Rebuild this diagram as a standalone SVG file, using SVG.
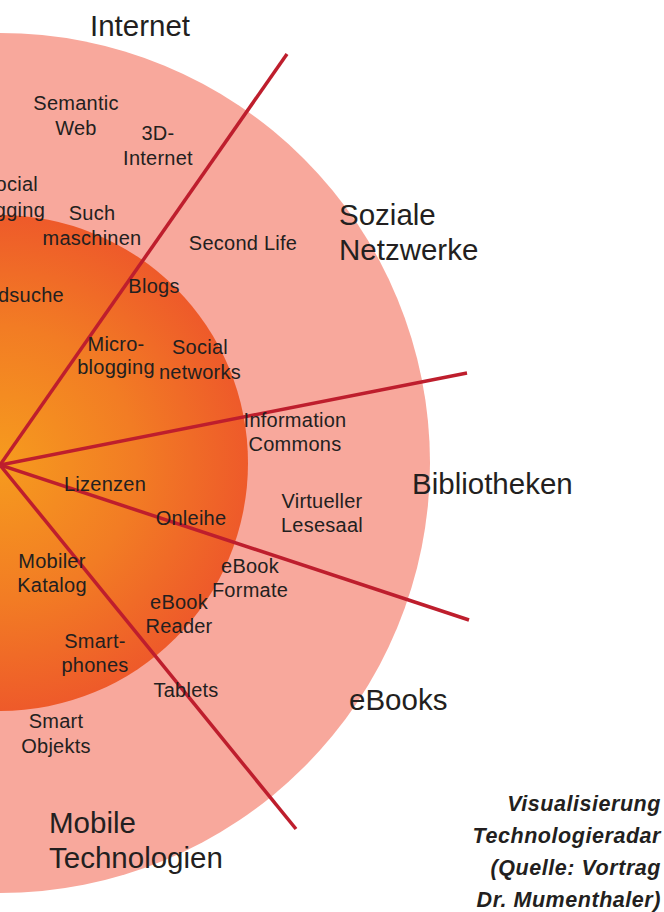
<svg xmlns="http://www.w3.org/2000/svg" width="664" height="912" viewBox="0 0 664 912">
<defs>
<radialGradient id="core" gradientUnits="userSpaceOnUse" cx="0" cy="463" r="248">
<stop offset="0" stop-color="#F69B1E"/>
<stop offset="0.55" stop-color="#F27C24"/>
<stop offset="1" stop-color="#EE5A2A"/>
</radialGradient>
<style>
text{font-family:"Liberation Sans",Arial,sans-serif;fill:#231F20}
.s{font-size:20px;text-anchor:middle;letter-spacing:0.25px}
.l{font-size:29.5px}
.c{font-size:21.5px;font-weight:bold;font-style:italic;text-anchor:end;letter-spacing:0.55px}
.ray{stroke:#BE1E2D;stroke-width:3.5;fill:none}
</style>
</defs>
<rect width="664" height="912" fill="#FFFFFF"/>
<g id="rings">
<circle cx="0" cy="463" r="430" fill="#F8A89C"/>
<circle cx="0" cy="463" r="248" fill="url(#core)"/>
</g>
<g id="connectors">
<line class="ray" x1="0" y1="465" x2="287" y2="54"/>
<line class="ray" x1="0" y1="465" x2="467" y2="373"/>
<line class="ray" x1="0" y1="465" x2="469" y2="620"/>
<line class="ray" x1="0" y1="465" x2="296" y2="829"/>
</g>
<g id="sector-internet"><text class="l" x="90" y="36">Internet</text></g>
<g id="sector-soziale"><text class="l" x="339" y="225">Soziale</text><text class="l" x="339" y="260">Netzwerke</text></g>
<g id="sector-bibliotheken"><text class="l" x="412" y="494">Bibliotheken</text></g>
<g id="sector-ebooks"><text class="l" x="349" y="710">eBooks</text></g>
<g id="sector-mobile"><text class="l" x="49" y="833">Mobile</text><text class="l" x="49" y="868">Technologien</text></g>
<g id="semantic-web"><text class="s" x="76" y="110">Semantic</text><text class="s" x="76" y="135">Web</text></g>
<g id="3d-internet"><text class="s" x="158" y="140">3D-</text><text class="s" x="158" y="165">Internet</text></g>
<g id="social-tagging"><text class="s" x="38" y="191" style="text-anchor:end">ocial</text><text class="s" x="45" y="217" style="text-anchor:end">gging</text></g>
<g id="suchmaschinen"><text class="s" x="92" y="220">Such</text><text class="s" x="92" y="245">maschinen</text></g>
<g id="second-life"><text class="s" x="243" y="250">Second Life</text></g>
<g id="blogs"><text class="s" x="154" y="293">Blogs</text></g>
<g id="bildsuche"><text class="s" x="64" y="302" style="text-anchor:end">dsuche</text></g>
<g id="microblogging"><text class="s" x="116" y="351">Micro-</text><text class="s" x="116" y="374">blogging</text></g>
<g id="social-networks"><text class="s" x="200" y="354">Social</text><text class="s" x="200" y="379">networks</text></g>
<g id="information-commons"><text class="s" x="295" y="427">Information</text><text class="s" x="295" y="451">Commons</text></g>
<g id="lizenzen"><text class="s" x="105" y="491">Lizenzen</text></g>
<g id="onleihe"><text class="s" x="191" y="525">Onleihe</text></g>
<g id="virtueller-lesesaal"><text class="s" x="322" y="508">Virtueller</text><text class="s" x="322" y="532">Lesesaal</text></g>
<g id="ebook-formate"><text class="s" x="250" y="573">eBook</text><text class="s" x="250" y="597">Formate</text></g>
<g id="mobiler-katalog"><text class="s" x="52" y="568">Mobiler</text><text class="s" x="52" y="592">Katalog</text></g>
<g id="ebook-reader"><text class="s" x="179" y="609">eBook</text><text class="s" x="179" y="633">Reader</text></g>
<g id="smartphones"><text class="s" x="95" y="648">Smart-</text><text class="s" x="95" y="672">phones</text></g>
<g id="tablets"><text class="s" x="186" y="697">Tablets</text></g>
<g id="smart-objekts"><text class="s" x="56" y="728">Smart</text><text class="s" x="56" y="753">Objekts</text></g>
<g id="caption">
<text class="c" x="661" y="811">Visualisierung</text>
<text class="c" x="661" y="843">Technologieradar</text>
<text class="c" x="661" y="875">(Quelle: Vortrag</text>
<text class="c" x="661" y="907">Dr. Mumenthaler)</text>
</g>
</svg>
